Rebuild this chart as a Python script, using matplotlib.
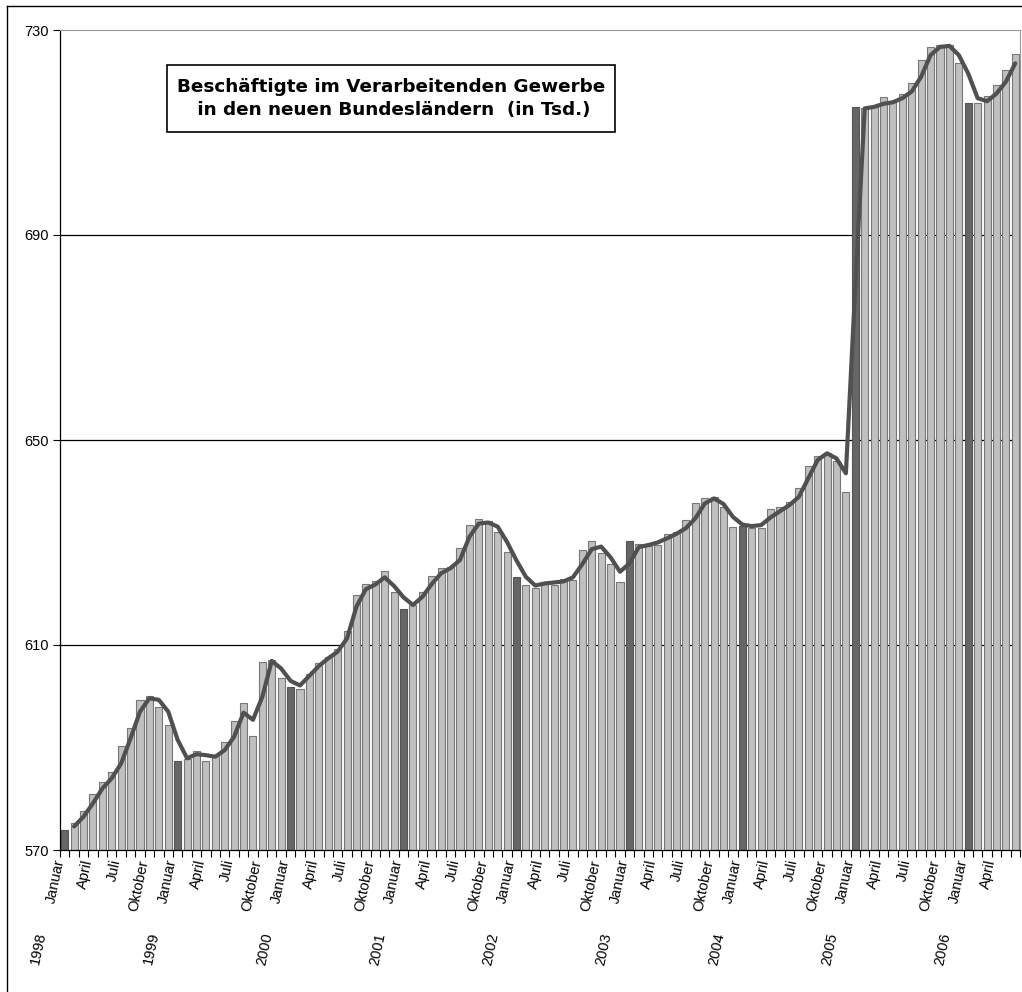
import numpy as np
import matplotlib.pyplot as plt
import matplotlib.transforms as mtransforms
from matplotlib.lines import Line2D
from matplotlib.patches import Rectangle

plt.rcParams['font.family'] = ['Liberation Sans', 'DejaVu Sans']

# Jahre und Monatsnamen
jahre = list(range(1998, 2007))
monate = ['Januar', 'Februar', 'März', 'April', 'Mai', 'Juni', 'Juli',
          'August', 'September', 'Oktober', 'November', 'Dezember']
beschriftete_monate = ['Januar', 'April', 'Juli', 'Oktober']

# Beschäftigte (in Tsd.), monatlich, Januar 1998 bis Juni 2006
beschaeftigte = [
    574.0, 575.2, 577.7, 580.9, 583.2, 585.2, 590.2, 593.9, 599.2, 600.0, 598.0, 594.3,  # 1998
    587.3, 587.8, 589.3, 587.3, 588.5, 591.1, 595.2, 598.6, 592.2, 606.7, 607.0, 603.5,  # 1999
    601.9, 601.5, 604.3, 606.4, 607.6, 609.2, 612.8, 619.8, 622.0, 622.4, 624.4, 620.4,  # 2000
    617.0, 617.8, 620.4, 623.5, 625.0, 625.3, 629.0, 633.4, 634.5, 634.1, 632.1, 628.2,  # 2001
    623.3, 621.8, 621.2, 622.2, 621.8, 622.9, 622.7, 628.5, 630.2, 627.9, 625.8, 622.3,  # 2002
    630.2, 629.8, 629.3, 629.5, 631.6, 632.0, 634.3, 637.8, 638.6, 638.8, 637.0, 633.1,  # 2003
    633.2, 632.8, 632.8, 636.6, 636.9, 638.0, 640.6, 645.0, 646.9, 647.4, 645.9, 639.8,  # 2004
    714.9, 714.7, 715.2, 717.0, 715.9, 717.5, 719.6, 724.1, 726.7, 727.1, 727.1, 723.6,  # 2005
    715.8, 715.8, 717.1, 719.3, 722.2, 725.3,                                            # 2006
]

# geglättete Trendlinie
trend = [
    np.nan, 574.6, 576.5, 579.1, 582.0, 584.0, 586.9, 591.8, 597.0, 599.6, 599.3, 597.0,  # 1998
    591.5, 587.9, 588.7, 588.5, 588.2, 589.5, 592.1, 596.8, 595.4, 599.9, 606.9, 605.4,   # 1999
    603.0, 602.1, 604.0, 605.9, 607.4, 608.7, 611.3, 617.5, 620.9, 621.8, 623.2, 621.5,   # 2000
    619.3, 617.8, 619.4, 621.9, 624.0, 625.0, 626.6, 631.1, 633.7, 633.9, 633.1, 630.1,   # 2001
    626.5, 623.3, 621.6, 622.0, 622.2, 622.4, 623.2, 625.8, 628.7, 629.2, 627.1, 624.3,   # 2002
    625.9, 629.1, 629.5, 630.0, 630.8, 631.7, 632.8, 634.7, 637.6, 638.6, 637.5, 635.0,   # 2003
    633.5, 633.2, 633.4, 634.9, 636.1, 637.3, 638.9, 642.5, 646.1, 647.4, 646.4, 643.5,   # 2004
    680.0, 714.7, 715.0, 715.6, 715.9, 716.7, 718.0, 720.9, 725.1, 726.7, 726.9, 725.1,   # 2005
    721.5, 716.7, 716.1, 717.6, 719.9, 723.5,                                             # 2006
]

n = len(beschaeftigte)
x = np.arange(n)
monat_idx = x % 12
farben = ['#666666' if m == 0 else '#c0c0c0' for m in monat_idx]
kanten = ['#555555' if m == 0 else '#777777' for m in monat_idx]

fig = plt.figure(figsize=(10.22, 9.92), dpi=100)
ax = fig.add_axes([60 / 1022, 1 - 850 / 992, 960 / 1022, 820 / 992])

for g in [610, 650, 690]:
    ax.axhline(g, color='black', lw=0.9, zorder=1)

ax.bar(x, beschaeftigte, width=0.75, color=farben, edgecolor=kanten,
       linewidth=0.8, zorder=2)
ax.plot(x, trend, color='#505050', lw=3.0, solid_joinstyle='round',
        solid_capstyle='round', zorder=3)

ax.set_ylim(570, 730)
ax.set_xlim(-0.5, n - 0.5)
ax.set_yticks([570, 610, 650, 690, 730])
ax.tick_params(axis='y', length=5, width=0.8, pad=3, labelsize=10.5)

# Monatsbeschriftung
pos = [i for i in x if monate[i % 12] in beschriftete_monate]
ax.set_xticks(pos, [monate[i % 12] for i in pos])
ax.set_xticks(np.arange(-0.5, n), minor=True)
ax.tick_params(axis='x', which='major', length=0, pad=7, labelsize=10.5)
ax.tick_params(axis='x', which='minor', length=5, width=0.8, direction='out')
verschiebung = mtransforms.ScaledTranslation(-5 / 100, 0, fig.dpi_scale_trans)
for lbl in ax.get_xticklabels():
    lbl.set_rotation(78)
    lbl.set_ha('right')
    lbl.set_va('center')
    lbl.set_rotation_mode('anchor')
    lbl.set_transform(lbl.get_transform() + verschiebung)

# Jahresbeschriftung
trans = mtransforms.blended_transform_factory(ax.transData, ax.transAxes)
for k, j in enumerate(jahre):
    ax.text(k * 12 - 2.4, -0.101, str(j), transform=trans, rotation=78,
            ha='right', va='center', rotation_mode='anchor', fontsize=10.5)

for s in ['top', 'right']:
    ax.spines[s].set_color('#999999')
for s in ['left', 'bottom']:
    ax.spines[s].set_color('black')
    ax.spines[s].set_linewidth(0.9)

# Titelkasten
ax.add_patch(Rectangle((0.1115, 0.8756), 0.4667, 0.0817, transform=ax.transAxes,
                       facecolor='white', edgecolor='black', lw=1.2, zorder=5))
ax.text(0.3448, 0.9165,
        'Beschäftigte im Verarbeitenden Gewerbe\n in den neuen Bundesländern  (in Tsd.)',
        transform=ax.transAxes, ha='center', va='center', fontsize=13.2,
        family='DejaVu Sans', fontweight='bold', linespacing=1.38, zorder=6)

# Rahmen um das Diagramm
fig.add_artist(Line2D([7 / 1022, 7 / 1022], [0, 1 - 6 / 992], color='black', lw=1))
fig.add_artist(Line2D([7 / 1022, 1], [1 - 6 / 992, 1 - 6 / 992], color='black', lw=1))

plt.savefig('out.png', dpi=100)
